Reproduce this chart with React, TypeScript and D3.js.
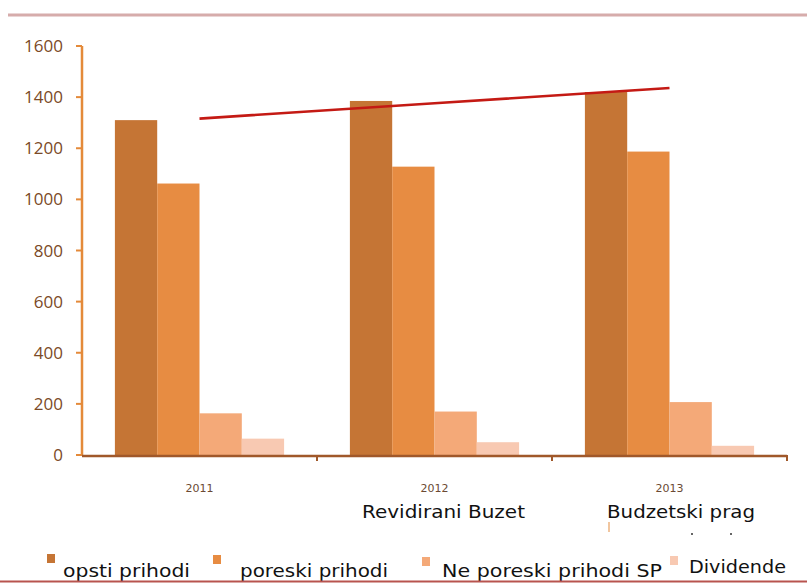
import React from 'react';
import * as d3 from 'd3';

// data
const years = ['2011', '2012', '2013'];
const seriesNames = ['opsti prihodi', 'poreski prihodi', 'Ne poreski prihodi SP', 'Dividende'];
const opsti = [1310, 1385, 1420];
const poreski = [1062, 1128, 1187];
const neporeski = [163, 170, 207];
const dividende = [64, 50, 36];
const trend = [1316, 1376, 1436];
const yTicks = [0, 200, 400, 600, 800, 1000, 1200, 1400, 1600];
const notes = ['', 'Revidirani Buzet', 'Budzetski prag'];

const colors = ['#c57535', '#e78c42', '#f4a978', '#f8c9b2'];
const allSeries = [opsti, poreski, neporeski, dividende];

const W = 807;
const H = 583;
const FONT = '"DejaVu Sans", sans-serif';

export default function App() {
    const x0 = d3.scaleBand<string>().domain(years).range([82, 787]);
    const bw = x0.bandwidth();
    const x1 = d3.scaleBand<string>()
        .domain(seriesNames)
        .range([bw * 0.14, bw * 0.86]);
    const y = d3.scaleLinear().domain([0, 1600]).range([455, 46]);

    const line = d3.line<number>()
        .x((d, i) => (x0(years[i]) as number) + bw / 2)
        .y(d => y(d));

    // legend layout: square x, text x, text baseline
    const legend = [
        { sx: 47, sy: 554, tx: 63, ty: 577, len: 127 },
        { sx: 213, sy: 555, tx: 240, ty: 577, len: 148 },
        { sx: 422, sy: 557, tx: 442, ty: 577, len: 220 },
        { sx: 670, sy: 556, tx: 689, ty: 573, len: 97 },
    ];

    return (
        <svg width={W} height={H} style={{ position: 'absolute', left: 0, top: 0, background: '#fff' }}>
            {/* top rule */}
            <line x1={8} x2={W} y1={15} y2={15} stroke="#d6acab" strokeWidth={3} />

            {/* y axis */}
            {yTicks.map(t => (
                <g key={t}>
                    <line x1={76} x2={82} y1={y(t)} y2={y(t)} stroke="#e48a3a" strokeWidth={2} />
                    <text x={63} y={y(t) + 6} textAnchor="end" fontFamily='"Open Sans", sans-serif'
                        fontSize={17} fill="#7b4a27">{t}</text>
                </g>
            ))}
            <line x1={82} x2={82} y1={y(1600)} y2={y(0)} stroke="#e48a3a" strokeWidth={2.5} />

            {/* bars */}
            {years.map((yr, i) => (
                <g key={yr} transform={`translate(${x0(yr)},0)`}>
                    {allSeries.map((s, j) => (
                        <rect key={j}
                            x={x1(seriesNames[j])}
                            y={y(s[i])}
                            width={x1.bandwidth()}
                            height={y(0) - y(s[i])}
                            fill={colors[j]} />
                    ))}
                </g>
            ))}

            {/* x axis */}
            <line x1={82} x2={787} y1={y(0) + 1} y2={y(0) + 1} stroke="#a0582a" strokeWidth={2.5} />
            {years.map(yr => (
                <line key={yr} x1={(x0(yr) as number) + bw} x2={(x0(yr) as number) + bw}
                    y1={y(0)} y2={y(0) + 6} stroke="#a0582a" strokeWidth={2} />
            ))}
            {years.map(yr => (
                <text key={yr} x={(x0(yr) as number) + bw / 2} y={492} textAnchor="middle"
                    fontFamily={FONT} fontSize={11} fill="#6b4a33">{yr}</text>
            ))}

            {/* trend line */}
            <path d={line(trend) as string} fill="none" stroke="#c41a14" strokeWidth={2.6} />

            {/* notes under categories */}
            <text x={362} y={518} fontFamily={FONT} fontSize={18} fill="#111"
                textLength={163} lengthAdjust="spacingAndGlyphs">{notes[1]}</text>
            <text x={607} y={518} fontFamily={FONT} fontSize={18} fill="#111"
                textLength={148} lengthAdjust="spacingAndGlyphs">{notes[2]}</text>
            <line x1={609} x2={609} y1={522} y2={532} stroke="#e8a060" strokeWidth={1.2} />
            <circle cx={692} cy={534} r={1} fill="#333" />
            <circle cx={731} cy={534} r={1} fill="#333" />

            {/* legend */}
            {seriesNames.map((n, i) => (
                <g key={n}>
                    <rect x={legend[i].sx} y={legend[i].sy} width={8} height={9} fill={colors[i]} />
                    <text x={legend[i].tx} y={legend[i].ty} fontFamily={FONT} fontSize={18} fill="#111"
                        textLength={legend[i].len} lengthAdjust="spacingAndGlyphs">{n}</text>
                </g>
            ))}

            {/* bottom rule */}
            <line x1={0} x2={W} y1={581.5} y2={581.5} stroke="#b8544f" strokeWidth={2} />
        </svg>
    );
}
